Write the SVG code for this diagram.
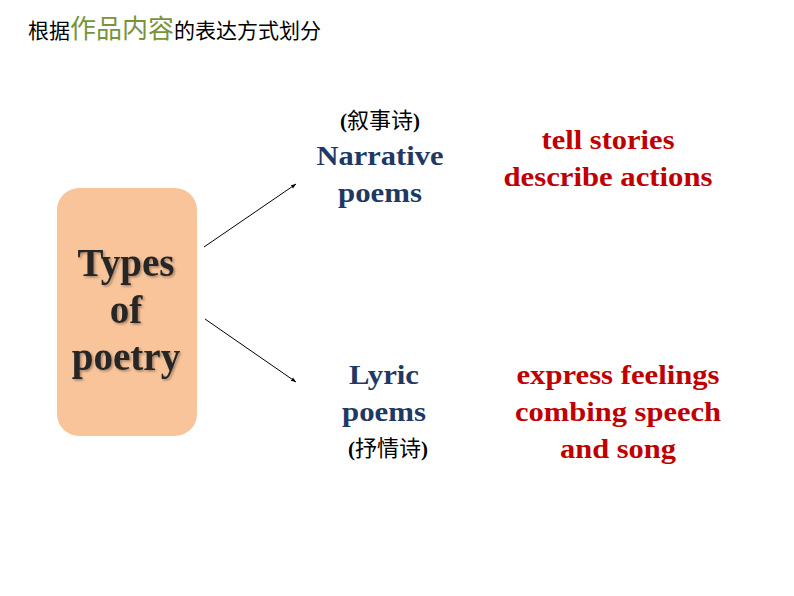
<svg xmlns="http://www.w3.org/2000/svg" width="794" height="596" viewBox="0 0 794 596">
<defs>
<style>
.b{font-family:"Liberation Serif","Noto Sans CJK SC",serif;font-weight:bold;text-anchor:middle}
.n{fill:#1f3864;font-size:27px}
.r{fill:#c00000;font-size:27px}
.c{fill:#000;font-size:21px}
.cn{font-family:"Noto Sans CJK SC",sans-serif;font-weight:normal;font-size:22px}
</style>
<filter id="sh" x="-10%" y="-10%" width="130%" height="130%"><feDropShadow dx="1.5" dy="1.5" stdDeviation="1" flood-color="#000" flood-opacity="0.35"/></filter>
<marker id="a" markerWidth="6" markerHeight="6" refX="5" refY="3" orient="auto" markerUnits="userSpaceOnUse"><path d="M0,1 L5,3 L0,5 z" fill="#000"/></marker>
</defs>
<rect width="794" height="596" fill="#fff"/>
<text x="28" y="38" font-family="Noto Sans CJK SC,sans-serif" font-size="21" fill="#000">根据<tspan fill="#77933c" font-size="26">作品内容</tspan>的表达方式划分</text>
<g id="types">
<rect x="57" y="188" width="140" height="248" rx="22" fill="#f9c49a"/>
<g class="b" font-size="39" fill="#262626" filter="url(#sh)">
<text x="126" y="276">Types</text>
<text x="126" y="323">of</text>
<text x="126" y="370">poetry</text>
</g>
</g>
<g id="narrative" class="b">
<text x="380" y="128" class="c">(<tspan class="cn">叙事诗</tspan>)</text>
<text x="380" y="165" class="n" textLength="127" lengthAdjust="spacingAndGlyphs">Narrative</text>
<text x="380" y="202" class="n" textLength="84" lengthAdjust="spacingAndGlyphs">poems</text>
</g>
<g id="narr-desc" class="b">
<text x="608" y="149" class="r" textLength="133" lengthAdjust="spacingAndGlyphs">tell stories</text>
<text x="608" y="186" class="r" textLength="209" lengthAdjust="spacingAndGlyphs">describe actions</text>
</g>
<g id="lyric" class="b">
<text x="384" y="384" class="n" textLength="70" lengthAdjust="spacingAndGlyphs">Lyric</text>
<text x="384" y="421" class="n" textLength="84" lengthAdjust="spacingAndGlyphs">poems</text>
<text x="388" y="456" class="c">(<tspan class="cn">抒情诗</tspan>)</text>
</g>
<g id="lyric-desc" class="b">
<text x="618" y="384" class="r" textLength="203" lengthAdjust="spacingAndGlyphs">express feelings</text>
<text x="618" y="421" class="r" textLength="206" lengthAdjust="spacingAndGlyphs">combing speech</text>
<text x="618" y="458" class="r" textLength="116" lengthAdjust="spacingAndGlyphs">and song</text>
</g>
<g id="connectors" stroke="#000" stroke-width="1">
<line x1="204" y1="247" x2="296" y2="184" marker-end="url(#a)"/>
<line x1="205" y1="319" x2="296" y2="382" marker-end="url(#a)"/>
</g>
</svg>
